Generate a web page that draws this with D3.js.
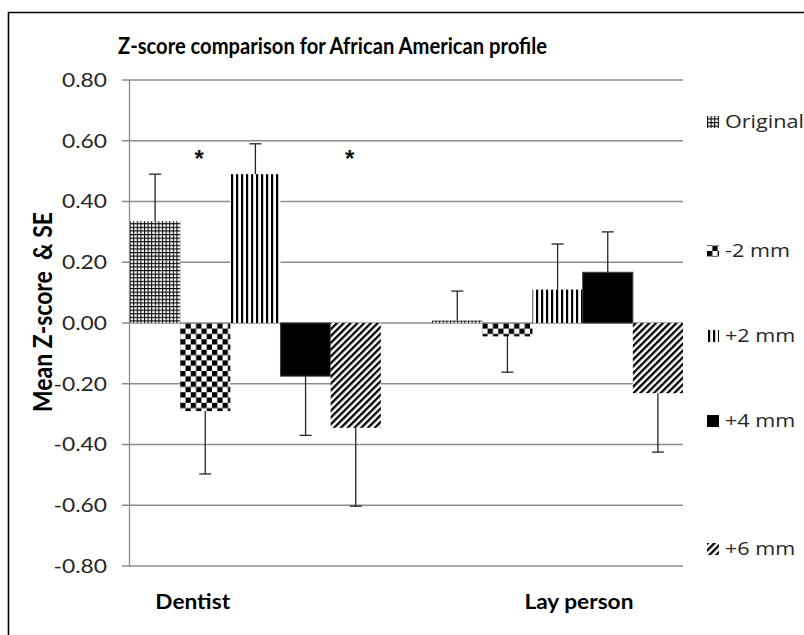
<!DOCTYPE html>
<html>
<head>
<meta charset="utf-8">
<script src="https://cdn.jsdelivr.net/npm/d3@7"></script>
<style>
  html, body { margin: 0; background: #fff; overflow: hidden; }
  svg { display: block; }
</style>
</head>
<body>
<svg id="chart" width="804" height="635"></svg>
<script>
// data
var categories = ["Dentist", "Lay person"];
var seriesNames = ["Original", "-2 mm", "+2 mm", "+4 mm", "+6 mm"];
var dentistMeans = [0.335, -0.29, 0.49, -0.175, -0.345];
var dentistSE = [0.155, 0.207, 0.10, 0.195, 0.258];
var layMeans = [0.008, -0.044, 0.11, 0.167, -0.231];
var laySE = [0.097, 0.118, 0.15, 0.133, 0.194];
var dentistStars = [false, true, false, false, true];
var layStars = [false, false, false, false, false];
var yTicks = [-0.8, -0.6, -0.4, -0.2, 0, 0.2, 0.4, 0.6, 0.8];

var means = [dentistMeans, layMeans];
var ses = [dentistSE, laySE];
var stars = [dentistStars, layStars];

var svg = d3.select("#chart");
var sx = 1.2; // picture is stretched sideways

// outer frame, only left and top edges are inside the picture
svg.append("path")
  .attr("d", "M8.5,640V12.5H810")
  .attr("fill", "none")
  .attr("stroke", "#000")
  .attr("stroke-width", 1.6);

var y = d3.scaleLinear().domain([-0.8, 0.8]).range([566, 80]);
var x0 = d3.scaleBand().domain(categories).range([130, 683]).paddingInner(0.17);
var x1 = d3.scaleBand().domain(seriesNames).range([0, x0.bandwidth()]);

// fill patterns
var defs = svg.append("defs");

var pGrid = defs.append("pattern").attr("id", "p0")
  .attr("patternUnits", "userSpaceOnUse").attr("width", 3.6).attr("height", 3.6);
pGrid.append("rect").attr("width", 3.6).attr("height", 3.6).attr("fill", "#fff");
pGrid.append("path").attr("d", "M0,0.5H3.6M0.5,0V3.6").attr("stroke", "#000").attr("stroke-width", 1.1);

var pCheck = defs.append("pattern").attr("id", "p1")
  .attr("patternUnits", "userSpaceOnUse").attr("width", 10.6).attr("height", 10.6);
pCheck.append("rect").attr("width", 10.6).attr("height", 10.6).attr("fill", "#fff");
pCheck.append("rect").attr("width", 5.3).attr("height", 5.3).attr("fill", "#000");
pCheck.append("rect").attr("x", 5.3).attr("y", 5.3).attr("width", 5.3).attr("height", 5.3).attr("fill", "#000");

var pVert = defs.append("pattern").attr("id", "p2")
  .attr("patternUnits", "userSpaceOnUse").attr("width", 5).attr("height", 5);
pVert.append("rect").attr("width", 5).attr("height", 5).attr("fill", "#fff");
pVert.append("rect").attr("x", 1).attr("width", 2.2).attr("height", 5).attr("fill", "#000");

var pDiag = defs.append("pattern").attr("id", "p4")
  .attr("patternUnits", "userSpaceOnUse").attr("width", 4.8).attr("height", 4.8)
  .attr("patternTransform", "rotate(45)");
pDiag.append("rect").attr("width", 4.8).attr("height", 4.8).attr("fill", "#fff");
pDiag.append("rect").attr("width", 2.3).attr("height", 4.8).attr("fill", "#000");

var fills = ["url(#p0)", "url(#p1)", "url(#p2)", "#000", "url(#p4)"];

// gridlines
svg.append("g").selectAll("line")
  .data(yTicks).enter()
  .append("line")
  .attr("x1", 122).attr("x2", 683)
  .attr("y1", function(d){ return y(d); })
  .attr("y2", function(d){ return y(d); })
  .attr("stroke", "#8c8c8c")
  .attr("stroke-width", 1.3);

svg.append("line")
  .attr("x1", 129.5).attr("x2", 129.5)
  .attr("y1", y(0.8)).attr("y2", y(-0.8))
  .attr("stroke", "#8c8c8c")
  .attr("stroke-width", 1.3);

// tick labels (plain hyphen, as in the picture)
svg.append("g").selectAll("text")
  .data(yTicks).enter()
  .append("text")
  .attr("transform", function(d){ return "translate(107," + y(d) + ") scale(" + sx + ",1)"; })
  .attr("dy", "0.36em")
  .attr("text-anchor", "end")
  .attr("font-family", "Lato")
  .attr("font-size", "19px")
  .attr("fill", "#262626")
  .text(function(d){ return d3.format(".2f")(d).replace("\u2212", "-"); });

// bars
var rows = [];
categories.forEach(function(c, ci){
  seriesNames.forEach(function(s, si){
    rows.push({cat: c, s: s, si: si, v: means[ci][si], se: ses[ci][si], star: stars[ci][si]});
  });
});

var barX = function(d){ return x0(d.cat) + x1(d.s); };

svg.append("g").selectAll("rect")
  .data(rows).enter()
  .append("rect")
  .attr("x", barX)
  .attr("y", function(d){ return y(Math.max(0, d.v)); })
  .attr("width", x1.bandwidth())
  .attr("height", function(d){ return Math.abs(y(d.v) - y(0)); })
  .attr("fill", function(d){ return fills[d.si]; })
  .attr("stroke", function(d){ return d.si === 3 ? "#404040" : "none"; })
  .attr("stroke-width", 1);

// error bars, one side only (away from zero)
var err = svg.append("g").selectAll("g")
  .data(rows).enter()
  .append("g")
  .attr("stroke", "#262626")
  .attr("stroke-width", 1.3);

var tip = function(d){ return y(d.v + (d.v >= 0 ? d.se : -d.se)); };
var mid = function(d){ return barX(d) + x1.bandwidth() / 2; };

err.append("line")
  .attr("x1", mid).attr("x2", mid)
  .attr("y1", function(d){ return y(d.v); })
  .attr("y2", tip);
err.append("line")
  .attr("x1", function(d){ return mid(d) - 6; })
  .attr("x2", function(d){ return mid(d) + 6; })
  .attr("y1", tip).attr("y2", tip);

// significance marks
svg.append("g").selectAll("text")
  .data(rows.filter(function(d){ return d.star; })).enter()
  .append("text")
  .attr("x", function(d){ return mid(d) - 6; })
  .attr("y", y(0.6) + 26)
  .attr("text-anchor", "middle")
  .attr("font-family", "Liberation Sans")
  .attr("font-weight", "bold")
  .attr("font-size", "24px")
  .attr("fill", "#111")
  .text("*");

// title
svg.append("text")
  .attr("x", 118).attr("y", 54)
  .attr("font-family", "Lato")
  .attr("font-weight", "bold")
  .attr("font-size", "23px")
  .attr("textLength", 429)
  .attr("lengthAdjust", "spacingAndGlyphs")
  .text("Z-score comparison for African American profile");

// y axis title
svg.append("text")
  .attr("transform", "translate(52,312) scale(" + sx + ",1) rotate(-90)")
  .attr("text-anchor", "middle")
  .attr("font-family", "Lato")
  .attr("font-weight", "bold")
  .attr("font-size", "22px")
  .attr("textLength", 200)
  .attr("lengthAdjust", "spacingAndGlyphs")
  .style("white-space", "pre")
  .text("Mean Z-score  & SE");

// category labels (they sit off centre in the picture)
var labelFrac = [0.25, 0.585];
svg.append("g").selectAll("text")
  .data(categories).enter()
  .append("text")
  .attr("transform", function(d, i){
    return "translate(" + (x0(d) + x0.bandwidth() * labelFrac[i]) + ",609) scale(1.08,1)";
  })
  .attr("text-anchor", "middle")
  .attr("font-family", "Lato")
  .attr("font-weight", "bold")
  .attr("font-size", "21px")
  .text(function(d){ return d; });

// legend
var legendY = [122, 251, 336, 421, 549];
var leg = svg.append("g").selectAll("g")
  .data(seriesNames).enter()
  .append("g")
  .attr("transform", function(d, i){ return "translate(707," + legendY[i] + ")"; });

leg.append("rect")
  .attr("x", 0).attr("y", -6)
  .attr("width", 12).attr("height", 12)
  .attr("fill", function(d, i){ return fills[i]; });

leg.append("text")
  .attr("transform", "translate(18,0) scale(" + sx + ",1)")
  .attr("dy", "0.36em")
  .attr("font-family", "Open Sans")
  .attr("font-size", "18px")
  .attr("fill", "#262626")
  .text(function(d){ return d; });
</script>
</body>
</html>
